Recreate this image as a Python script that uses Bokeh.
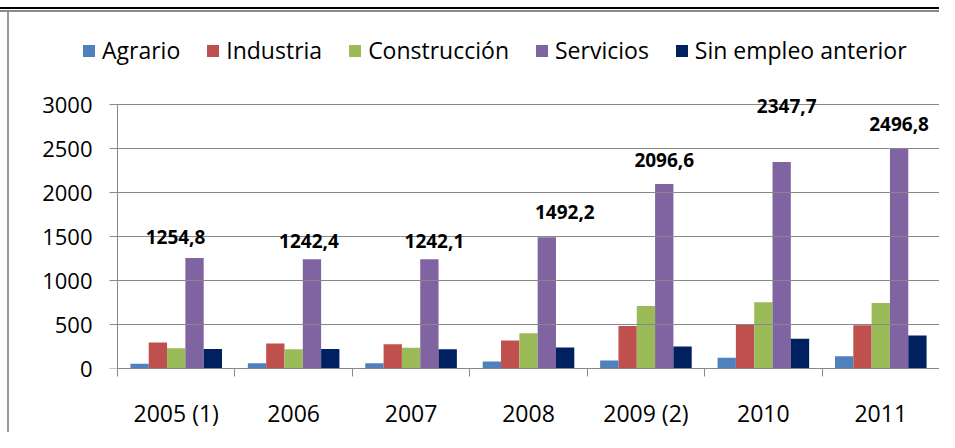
from bokeh.plotting import figure
from bokeh.models import (ColumnDataSource, Range1d, FixedTicker, LinearAxis,
                          Legend, LegendItem, LabelSet, CustomLabelingPolicy)
from bokeh.core.properties import value
from bokeh.transform import dodge
from bokeh.embed import file_html
from bokeh.resources import INLINE

# ---- data ----
categories = ["2005 (1)", "2006", "2007", "2008", "2009 (2)", "2010", "2011"]
agrario = [53, 60, 60, 79, 91, 121, 140]
industria = [295, 284, 276, 318, 484, 499, 492]
construccion = [231, 219, 235, 401, 711, 753, 745]
servicios = [1254.8, 1242.4, 1242.1, 1492.2, 2096.6, 2347.7, 2496.8]
sin_empleo = [223, 223, 219, 238, 250, 337, 374]
series_names = ["Agrario", "Industria", "Construcción", "Servicios", "Sin empleo anterior"]
y_ticks = [0, 500, 1000, 1500, 2000, 2500, 3000]

# ---- style / layout ----
colors = ["#4F81BD", "#C0504D", "#9BBB59", "#8064A2", "#002060"]
label_dx = [-19, -3, 5, 18, 0, 5, 0]     # px, manual label placement
label_dy = [21, 18, 18, 25, 24, 56, 25]  # px above bar top
BAR_W = 0.156
FONT = "Open Sans"
GRAY = "#888888"
W, H = 939, 432
FRAME_L, AXIS_X, PLOT_R, AXIS_Y = 78, 117, 939, 368   # px
PX_PER_CAT = (PLOT_R - AXIS_X) / len(categories)
PX_PER_UNIT = (AXIS_Y - 104) / 3000

n = len(categories)
centers = [i + 0.5 for i in range(n)]
bounds = [float(i) for i in range(n + 1)]

src = ColumnDataSource(dict(
    x=centers,
    agrario=agrario, industria=industria, construccion=construccion,
    servicios=servicios, sin_empleo=sin_empleo,
    lab=[f"{v:.1f}".replace(".", ",") for v in servicios],
    dx=label_dx, dy=label_dy,
))

x0 = -(AXIS_X - FRAME_L) / PX_PER_CAT
y1 = AXIS_Y / PX_PER_UNIT
p = figure(width=W, height=H, output_backend="svg", toolbar_location=None,
           x_range=Range1d(x0, n), y_range=Range1d(0, y1),
           x_axis_type=None, y_axis_type=None,
           min_border_left=FRAME_L, min_border_right=W - PLOT_R, min_border_top=0,
           min_border_bottom=H - AXIS_Y)
p.outline_line_color = None
p.background_fill_color = None
p.border_fill_color = None
p.styles = {"box-shadow": ", ".join([
    "inset 0 7px 0 #ffffff", "inset 0 9px 0 #000000",
    "inset 0 10px 0 #ffffff", "inset 0 12px 0 #8a8a8a",
    "inset 7px 0 0 #ffffff", "inset 9px 0 0 #9a9a9a"])}

fields = ["agrario", "industria", "construccion", "servicios", "sin_empleo"]
renderers = []
for k, (f, c) in enumerate(zip(fields, colors)):
    r = p.vbar(x=dodge("x", (k - 2) * BAR_W, range=p.x_range), top=f, width=BAR_W,
               bottom=0, source=src, fill_color=c, line_color=None)
    renderers.append(r)

# y tick labels (side-panel axis, not clipped)
ylab = LinearAxis(ticker=FixedTicker(ticks=y_ticks))
ylab.axis_line_color = None
ylab.major_tick_line_color = None
ylab.minor_tick_line_color = None
ylab.major_tick_out = 0
ylab.major_tick_in = 0
ylab.major_label_text_font = FONT
ylab.major_label_text_font_size = "22px"
ylab.major_label_text_color = "#000000"
ylab.major_label_standoff = FRAME_L - (AXIS_X - 8 - 17)
p.add_layout(ylab, "left")

# y axis line at x=0; its inward ticks act as the horizontal gridlines (no labels)
yaxis = LinearAxis(ticker=FixedTicker(ticks=y_ticks), bounds=(0, 3000), fixed_location=0,
                   major_label_policy=CustomLabelingPolicy(code="return new Set()"))
yaxis.axis_line_color = GRAY
yaxis.major_tick_line_color = GRAY
yaxis.major_tick_line_width = 1.2
yaxis.major_tick_out = 8
yaxis.major_tick_in = PLOT_R - AXIS_X
yaxis.minor_tick_line_color = None
yaxis.major_label_text_font_size = "8px"
yaxis.major_label_standoff = 0
p.add_layout(yaxis, "left")

xaxis = LinearAxis(ticker=FixedTicker(ticks=centers, minor_ticks=bounds), bounds=(0, n))
xaxis.major_label_overrides = {c: lab for c, lab in zip(centers, categories)}
xaxis.axis_line_color = GRAY
xaxis.major_tick_line_color = None
xaxis.minor_tick_line_color = GRAY
xaxis.minor_tick_out = 8
xaxis.minor_tick_in = 0
xaxis.major_label_text_font = FONT
xaxis.major_label_text_font_size = "23px"
xaxis.major_label_text_color = "#000000"
xaxis.major_label_standoff = 20
p.add_layout(xaxis, "below")

labels = LabelSet(x=dodge("x", BAR_W, range=p.x_range), y="servicios", text="lab",
                  x_offset="dx", y_offset="dy", source=src,
                  text_font=value(FONT), text_font_style="bold", text_font_size="19px",
                  text_align="center", text_baseline="middle", text_color="#000000")
p.add_layout(labels)

legend = Legend(items=[LegendItem(label=nm, renderers=[r]) for nm, r in zip(series_names, renderers)],
                orientation="horizontal", location=(3, AXIS_Y - 66),
                glyph_width=15, glyph_height=15, label_standoff=6, spacing=25,
                padding=0, margin=0, border_line_color=None, background_fill_alpha=0,
                label_text_font=FONT, label_text_font_size="23px", label_text_color="#000000")
p.add_layout(legend, "center")

open("out.html", "w").write(file_html(p, INLINE))
